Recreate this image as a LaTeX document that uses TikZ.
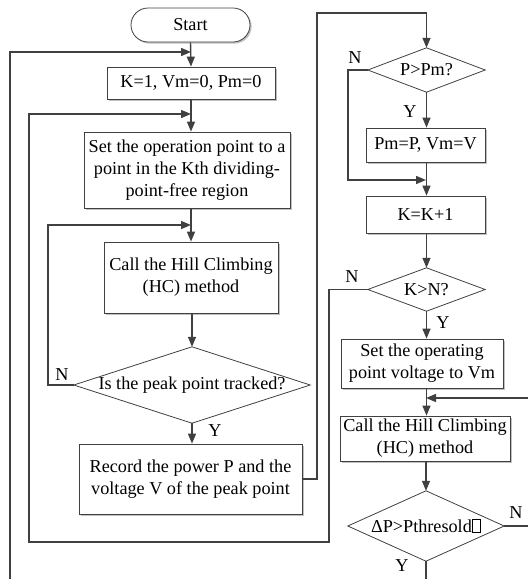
\documentclass[tikz,border=0pt]{standalone}
\usepackage{fontspec}
\setmainfont{Liberation Serif}
\usetikzlibrary{arrows.meta,shadows}
\definecolor{ln}{HTML}{404040}
\newcommand\qbox{{\fboxsep=0pt\fboxrule=0.7pt\fbox{\rule{0pt}{0.66em}\hspace{0.42em}}}}
\begin{document}
\begin{tikzpicture}[x=1pt,y=-1pt,
  font=\fontsize{18.2}{22}\selectfont,
  line/.style={draw=ln, line width=1.4pt},
  arr/.style={line, -{Triangle[length=10pt,width=8pt]}},
  box/.style={draw=ln, line width=0.8pt, fill=white, inner sep=1pt, align=center,
    drop shadow={shadow xshift=1.6pt, shadow yshift=-1.6pt, fill=black!30, opacity=0.8}},
  dlab/.style={inner sep=0pt},
  lab/.style={inner sep=0pt}]
\useasboundingbox (0,0) rectangle (528,579);
% nodes
\node[box, rounded corners=17pt, minimum width=119pt, minimum height=34pt] (start) at (190.5,25) {Start};
\node[box, minimum width=168pt, minimum height=32pt] (k1) at (191,83) {K=1, Vm=0, Pm=0};
\node[box, minimum width=206pt, minimum height=76pt] (setop) at (187,170) {Set the operation point to a\\point in the Kth dividing-\\point-free region};
\node[box, minimum width=174pt, minimum height=71pt] (hc1) at (191,277.5) {Call the Hill Climbing\\(HC) method};
\node[dlab, minimum width=236pt, minimum height=76pt] (d1) at (192,385) {Is the peak point tracked?};
\draw[draw=ln, line width=0.8pt] (d1.west) -- (d1.north) -- (d1.east) -- (d1.south) -- cycle;
\node[box, minimum width=223pt, minimum height=70pt] (rec) at (190.5,479) {Record the power P and the\\voltage V of the peak point};
\node[dlab, minimum width=117pt, minimum height=44pt] (d2) at (426.5,70) {P>Pm?};
\draw[draw=ln, line width=0.8pt] (d2.west) -- (d2.north) -- (d2.east) -- (d2.south) -- cycle;
\node[box, minimum width=119pt, minimum height=34pt] (pm) at (425.5,145) {Pm=P, Vm=V};
\node[box, minimum width=119pt, minimum height=37pt] (kk) at (425.5,214.5) {K=K+1};
\node[dlab, minimum width=117pt, minimum height=43pt] (d3) at (426.5,289.5) {K>N?};
\draw[draw=ln, line width=0.8pt] (d3.west) -- (d3.north) -- (d3.east) -- (d3.south) -- cycle;
\node[box, minimum width=162pt, minimum height=49pt] (setv) at (422,363.5) {Set the operating\\point voltage to Vm};
\node[box, minimum width=170pt, minimum height=45pt] (hc2) at (425,438.5) {Call the Hill Climbing\\(HC) method};
\node[dlab, minimum width=156pt, minimum height=70pt] (d4) at (426,526) {ΔP>Pthresold\qbox};
\draw[draw=ln, line width=0.8pt] (d4.west) -- (d4.north) -- (d4.east) -- (d4.south) -- cycle;
% coordinates
\coordinate (m1) at (191,52);
\coordinate (m2) at (191,114);
\coordinate (m3) at (191,225);
\coordinate (m4) at (426,180);
\coordinate (m5) at (426,398);
\coordinate (e1) at (10,579);
\coordinate (e2) at (528,398);
\coordinate (e3) at (528,526);
\coordinate (e4) at (426,579);
% main column
\draw[arr] (start.south) -- (k1.north);
\draw[arr] (k1.south) -- (setop.north -| k1);
\draw[arr] (setop.south -| k1) -- (hc1.north);
\draw[arr] (hc1.south -| d1) -- (d1.north);
\draw[arr] (d1.south) -- (rec.north -| d1);
\node[lab] at (215,431) {Y};
% loops left
\draw[arr] (e1) -- (10,52) -- (m1);
\draw[arr] (d3.west) -- (329,289.5) -- (329,542) -- (29,542) -- (29,114) -- (m2);
\node[lab] at (352,277) {N};
\draw[arr] (d1.west) -- (48,385) -- (48,225) -- (m3);
\node[lab] at (62,375) {N};
% record to right column
\draw[arr] (rec.east |- 0,479) -- (317,479) -- (317,13) -- (426.5,13) -- (d2.north);
% right column
\draw[arr] (d2.south) -- (pm.north -| d2);
\node[lab] at (410,112) {Y};
\draw[arr] (d2.west) -- (348,70) -- (348,180) -- (m4);
\node[lab] at (355,58) {N};
\draw[arr] (pm.south -| d2) -- (kk.north -| d2);
\draw[arr] (kk.south -| d2) -- (d3.north);
\draw[arr] (d3.south) -- (setv.north -| d3);
\node[lab] at (443,323) {Y};
\draw[arr] (setv.south -| d3) -- (hc2.north -| d3);
\draw[arr] (e2) -- (m5);
\draw[arr] (hc2.south -| d4) -- (d4.north);
\draw[line] (d4.east) -- (e3);
\node[lab] at (516,513) {N};
\draw[line] (d4.south) -- (e4);
\node[lab] at (402,566) {Y};
\end{tikzpicture}
\end{document}
